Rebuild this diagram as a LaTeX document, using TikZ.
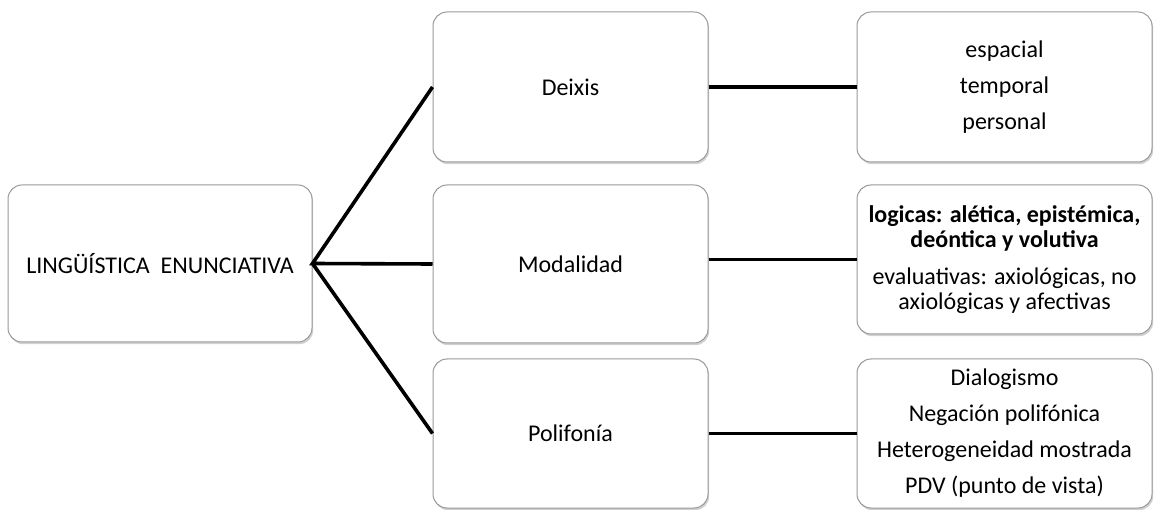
\documentclass[tikz,border=0pt]{standalone}
\usepackage{fontspec}
\setmainfont{Carlito}
\usetikzlibrary{shadows}
\begin{document}
\begin{tikzpicture}[x=1pt,y=-1pt,
  box/.style={draw=gray!80, line width=1pt, fill=white, rounded corners=14pt,
    align=center, inner sep=0pt, font=\fontsize{24}{25}\selectfont,
    drop shadow={shadow xshift=1.2pt, shadow yshift=-2.2pt, opacity=0.45, fill=gray!80}},
  link/.style={line width=3.6pt, black}]
\useasboundingbox (0,0) rectangle (1154,510);
% root
\node[box, minimum width=304pt, minimum height=157pt] (root) at (160,263.5) {LINGÜÍSTICA\ \ ENUNCIATIVA};
% middle column
\node[box, minimum width=275pt, minimum height=150pt] (deixis) at (570.5,87) {Deixis};
\node[box, minimum width=275pt, minimum height=158pt] (modal) at (570.5,264) {Modalidad};
\node[box, minimum width=275pt, minimum height=149pt] (polif) at (570.5,433.5) {Polifonía};
% right column
\node[box, minimum width=295pt, minimum height=150pt] (rdeixis) at (1004.5,87)
  {espacial\\[11pt]temporal\\[11pt]personal};
\node[box, minimum width=295pt, minimum height=149pt] (rmodal) at (1004.5,259.5)
  {\textbf{logicas: alética, epistémica,}\\\textbf{deóntica y volutiva}\\[12pt]evaluativas: axiológicas, no\\axiológicas y afectivas};
\node[box, minimum width=295pt, minimum height=149pt] (rpolif) at (1004.5,433.5)
  {Dialogismo\\[11pt]Negación polifónica\\[11pt]Heterogeneidad mostrada\\[11pt]PDV (punto de vista)};
% connectors
\draw[link] (deixis.west) -- (root.east) -- (modal.west);
\draw[link] (root.east) -- (polif.west);
\draw[link] (deixis.east) -- (rdeixis.west);
\draw[link] (modal.east |- rmodal.west) -- (rmodal.west);
\draw[link] (polif.east) -- (rpolif.west);
\end{tikzpicture}
\end{document}
